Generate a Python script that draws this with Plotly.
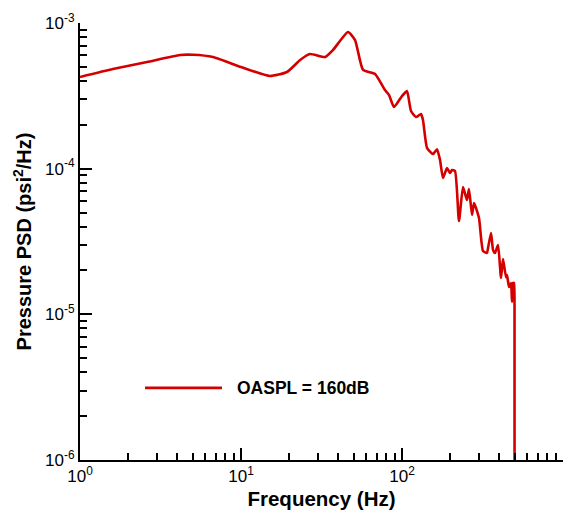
import plotly.graph_objects as go

# Frequency (Hz) and pressure PSD (psi^2/Hz)
freq_hz = [1.0, 1.60, 2.61, 4.18, 5.03, 6.70, 10.0, 15.1, 19.3, 23.3, 26.8, 33.3, 37.3,
           46.2, 51.1, 57.3, 68.0, 78.4, 83.1, 89.2, 100.0, 107.4, 113.7, 122.2, 131.2,
           135.0, 143.0, 155.8, 165.0, 172.2, 179.7, 190.3, 198.7, 204.5, 213.4, 225.9,
           239.3, 253.3, 260.7, 272.2, 280.1, 300.8, 318.6, 337.3, 342.2, 357.2, 367.6,
           378.2, 394.8, 412.0, 424.0, 442.6, 449.0, 461.9, 475.3, 482.1, 489.1, 496.0,
           500.0, 500.5]
psd = [4.26e-4, 4.83e-4, 5.40e-4, 6.03e-4, 6.05e-4, 5.84e-4, 4.99e-4, 4.33e-4, 4.61e-4,
       5.57e-4, 6.12e-4, 5.84e-4, 6.53e-4, 8.67e-4, 7.64e-4, 4.76e-4, 4.47e-4, 3.47e-4,
       3.20e-4, 2.65e-4, 3.15e-4, 3.41e-4, 2.49e-4, 2.26e-4, 2.37e-4, 2.16e-4, 1.39e-4,
       1.26e-4, 1.36e-4, 1.15e-4, 8.63e-5, 1.01e-4, 9.34e-5, 9.79e-5, 9.64e-5, 4.37e-5,
       7.48e-5, 6.09e-5, 7.25e-5, 4.81e-5, 5.81e-5, 4.58e-5, 2.72e-5, 2.64e-5, 2.85e-5,
       3.62e-5, 2.77e-5, 2.64e-5, 2.99e-5, 1.78e-5, 2.40e-5, 1.80e-5, 1.86e-5, 1.54e-5,
       1.64e-5, 1.22e-5, 1.64e-5, 1.64e-5, 1.16e-5, 1.0e-8]

series_name = "OASPL = 160dB"
x_major = [1, 10, 100, 1000]
x_labels = ["10<sup>0</sup>", "10<sup>1</sup>", "10<sup>2</sup>", "10<sup>3</sup>"]
y_major = [1e-6, 1e-5, 1e-4, 1e-3]
y_labels = ["10<sup>-6</sup>", "10<sup>-5</sup>", "10<sup>-4</sup>", "10<sup>-3</sup>"]

x_minor = [m * d for d in [1, 10, 100] for m in range(2, 10)]
y_minor = [m * d for d in [1e-6, 1e-5, 1e-4] for m in range(2, 10)]

RED = "#D40000"
FONT = "Liberation Sans, Arial, sans-serif"

fig = go.Figure()
fig.add_trace(go.Scatter(
    x=freq_hz, y=psd, mode="lines", name=series_name,
    line=dict(color=RED, width=2.6, shape="spline", smoothing=0.5),
    showlegend=False,
))

axis_common = dict(
    type="log", showline=True, linecolor="black", linewidth=2,
    showgrid=False, zeroline=False, mirror=False, automargin=False,
    ticks="inside", ticklen=12, tickwidth=2, tickcolor="black",
    tickmode="array",
    tickfont=dict(family=FONT, size=17, color="black"),
)

fig.update_xaxes(
    **axis_common, range=[0, 3], tickvals=x_major, ticktext=x_labels,
    minor=dict(tickmode="array", tickvals=x_minor, ticks="inside", ticklen=7,
               tickwidth=1.5, tickcolor="black", showgrid=False),
    title=dict(text="<b>Frequency (Hz)</b>", font=dict(family=FONT, size=20.5, color="black"),
               standoff=9),
)
fig.update_yaxes(
    **axis_common, range=[-6, -3], tickvals=y_major, ticktext=y_labels,
    minor=dict(tickmode="array", tickvals=y_minor, ticks="inside", ticklen=7,
               tickwidth=1.5, tickcolor="black", showgrid=False),
    title=dict(text="<b>Pressure PSD (psi<sup>2</sup>/Hz)</b>",
               font=dict(family=FONT, size=20, color="black"), standoff=8),
)

# Legend drawn in the plot area (line sample + label)
fig.add_shape(type="line", xref="paper", yref="paper", x0=0.1346, x1=0.294, y0=0.165, y1=0.165,
              line=dict(color=RED, width=2.6))
fig.add_annotation(text=f"<b>{series_name}</b>", xref="paper", yref="paper", x=0.321, y=0.165,
                   xanchor="left", yanchor="middle", showarrow=False,
                   font=dict(family=FONT, size=17.5, color="black"))

fig.update_layout(
    width=576, height=510,
    margin=dict(l=80, r=13, t=23, b=50),
    paper_bgcolor="white", plot_bgcolor="white",
    font=dict(family=FONT, color="black"),
)

fig.write_html("out.html", config={"displayModeBar": False},
               post_script="document.body.style.margin='0px';document.body.style.overflow='hidden';")
